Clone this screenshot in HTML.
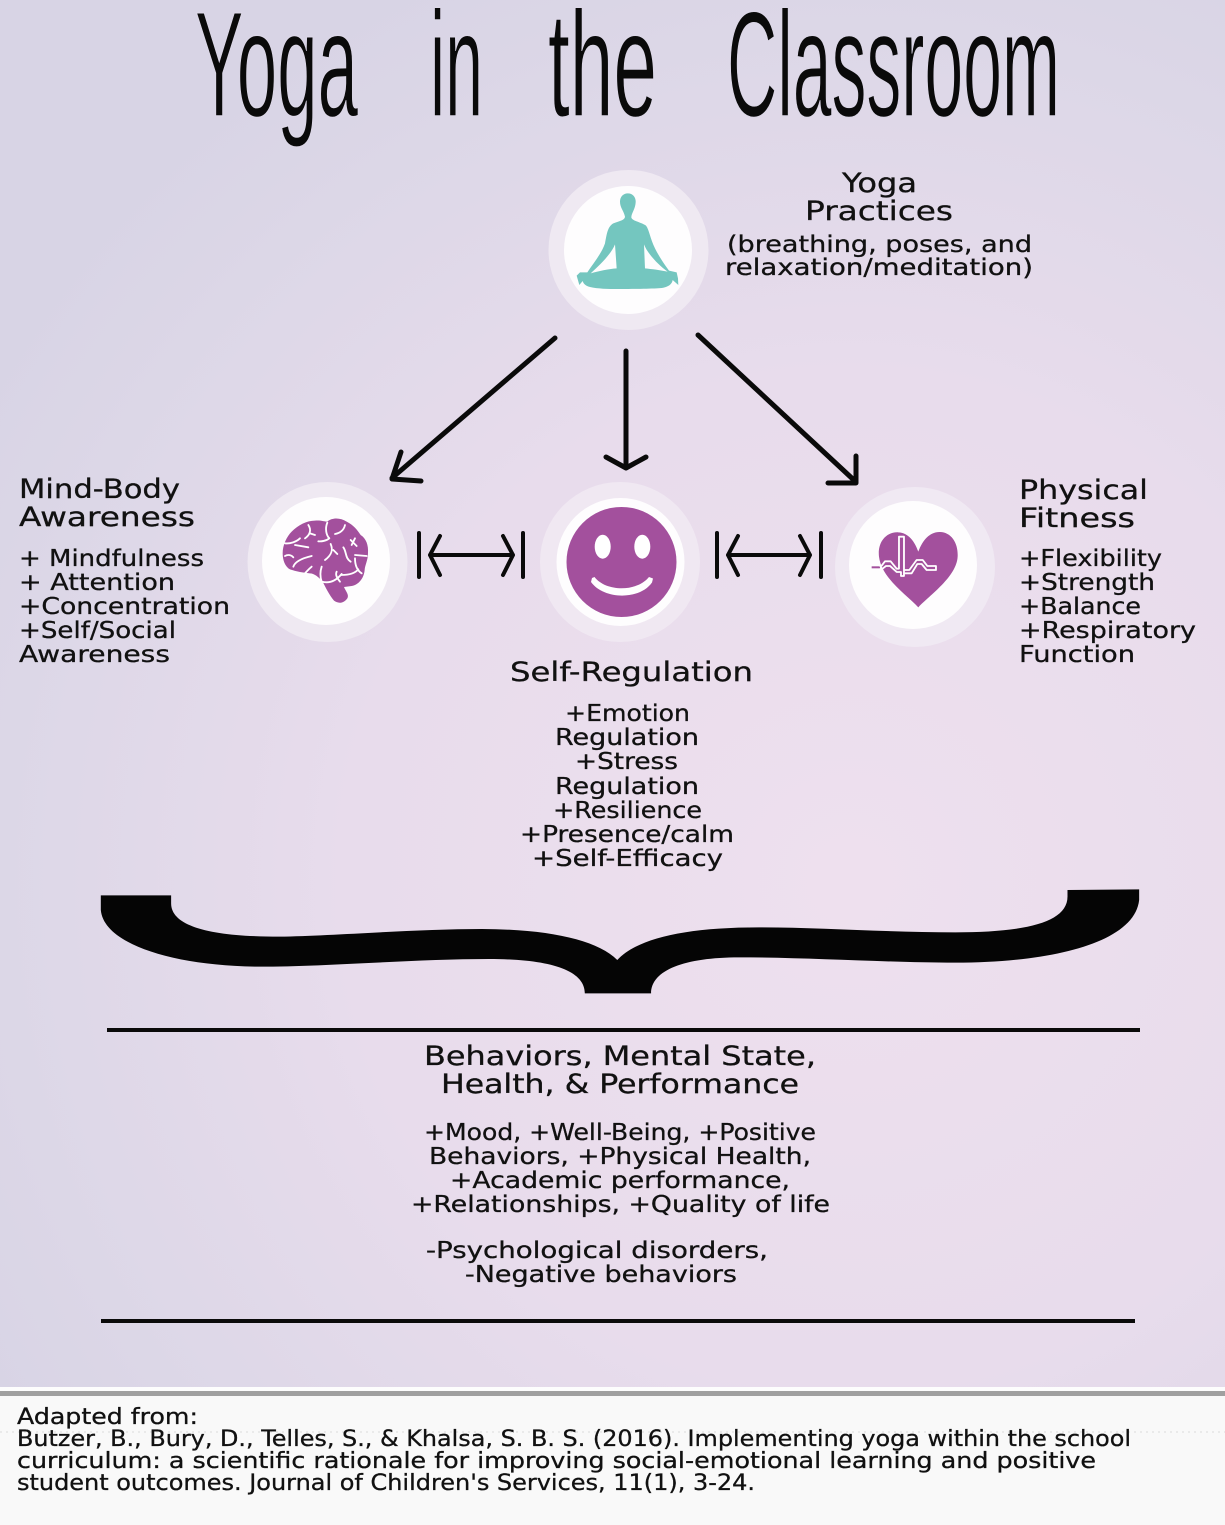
<!DOCTYPE html>
<html><head><meta charset="utf-8"><title>Yoga in the Classroom</title>
<style>
html,body{margin:0;padding:0;background:#f9f9f9}
svg{display:block}
text{font-family:"DejaVu Sans","Liberation Sans",sans-serif;fill:#111;font-size:23px;stroke:#111;stroke-width:.3px}
.h{font-size:27px}
.f{font-size:22px}
.t{font-family:"Liberation Sans",sans-serif;font-size:150px;fill:#0a0a0a;stroke:#dcd7e7;stroke-width:1.4px}
</style></head><body>
<svg width="1225" height="1525" viewBox="0 0 1225 1525" xmlns="http://www.w3.org/2000/svg">
<defs>
<radialGradient id="bg" gradientUnits="userSpaceOnUse" cx="850" cy="880" r="1000">
<stop offset="0" stop-color="#eee0ee"/><stop offset=".5" stop-color="#e8dcec"/><stop offset=".85" stop-color="#dcd7e7"/><stop offset="1" stop-color="#d8d4e5"/>
</radialGradient>
</defs>
<rect width="1225" height="1387" fill="url(#bg)"/>
<rect y="1387" width="1225" height="138" fill="#f9f9f9"/>
<rect y="1387" width="1225" height="4" fill="#fdfdfd"/>
<rect y="1391" width="1225" height="5" fill="#a0a0a0"/>
<line x1="0" y1="1432" x2="1225" y2="1432" stroke="#e6e6e6" stroke-width="1.5" stroke-dasharray="2 4"/>

<g class="title">
<text class="t" x="195" y="116" textLength="163" lengthAdjust="spacingAndGlyphs">Yoga</text>
<text class="t" x="430" y="116" textLength="53" lengthAdjust="spacingAndGlyphs">in</text>
<text class="t" x="548" y="116" textLength="109" lengthAdjust="spacingAndGlyphs">the</text>
<text class="t" x="727" y="116" textLength="333" lengthAdjust="spacingAndGlyphs">Classroom</text>
</g>

<!-- circles -->
<circle cx="628.5" cy="250" r="80" fill="#efe9f2"/><circle cx="628" cy="250" r="64" fill="#fefdfe"/>
<circle cx="327.5" cy="562" r="80" fill="#efe9f2"/><circle cx="326" cy="561" r="64" fill="#fefdfe"/>
<circle cx="620" cy="562" r="80" fill="#f0e8f2"/><circle cx="620.5" cy="562" r="64" fill="#fefdfe"/>
<circle cx="915" cy="567" r="80" fill="#f0e9f3"/><circle cx="913" cy="565" r="64" fill="#fefdfe"/>

<!-- meditator -->
<g transform="translate(570 185) scale(.3333)">
<path fill="#74c6bf" d="M173 25C190 25 198 38 197 52C196 72 184 85 184 97C186 108 215 112 228 122C238 135 240 160 255 190C270 220 285 240 297 257L320 262L324 280L325 300L308 285C306 300 290 310 260 310C235 311 200 312 175 312C130 312 90 313 60 306C45 302 40 295 38 288L28 300L20 272L30 262L52 262C70 235 95 205 105 175C110 150 112 125 130 115C150 108 165 105 165 95C160 75 150 68 150 50C150 35 160 25 173 25Z"/>
<path fill="#fefdfe" d="M135 178C125 205 90 240 62 265C85 258 115 252 140 250ZM222 178C232 205 265 240 293 260C270 255 245 252 225 250Z"/>
</g>

<!-- brain -->
<g transform="translate(240 470) scale(.3333)">
<path fill="#a3509d" d="M128 250C128 225 140 200 155 185C175 165 200 152 225 152C240 150 255 155 262 155C275 143 300 142 320 155C340 165 352 180 362 195C378 205 386 225 384 250C384 270 375 285 374 300C372 325 355 345 335 348L312 351C318 365 328 375 322 385C312 400 295 402 282 392C268 375 258 355 248 335C235 320 222 310 210 310C190 308 170 305 150 298C135 290 128 270 128 250Z"/>
<g fill="none" stroke="#fff" stroke-width="5.5" stroke-linecap="round" stroke-linejoin="round">
<path d="M135 220C150 222 170 215 180 205M165 225L205 232M135 258C145 252 155 256 160 262M160 290C165 275 185 265 215 258M205 165C215 180 210 195 195 205M210 190L225 195"/>
<path d="M262 158C255 175 258 195 268 205C260 212 245 215 235 214M315 165C312 180 300 190 285 192M272 222C280 240 275 255 255 270M280 240L292 252M310 232C320 245 315 265 332 275M332 210L350 228M345 205L335 225M345 255L380 258"/>
<path d="M245 290C240 305 240 320 245 335C270 342 290 330 305 312M290 305C285 315 292 325 300 335M345 265C345 285 350 300 365 310M305 315C325 315 345 310 355 298M215 290C205 298 200 305 195 310"/>
</g>
</g>

<!-- smile -->
<circle cx="621.5" cy="562" r="55" fill="#a3509d"/>
<ellipse cx="602.7" cy="546.7" rx="8" ry="12" fill="#fff"/>
<ellipse cx="642.3" cy="546.7" rx="8" ry="12" fill="#fff"/>
<path d="M592 578L594.500 577C606 592 637 592 649 577L653 578.500L652 582.500C640 600 604 600 591 582Z" fill="#fff"/>

<!-- heart -->
<g transform="translate(700 470) scale(.3333)">
<path fill="#a3509d" d="M655 412C620 375 545 325 537 260C532 215 560 185 595 187C625 188 645 215 655 245C668 210 690 185 720 186C755 187 775 220 773 260C770 320 690 375 655 412Z"/>
<path fill="none" stroke="#a3509d" stroke-width="6" d="M515 292H540"/>
<path fill="none" stroke="#fff" stroke-width="5.5" stroke-linejoin="round" d="M538 287H545L555 274H572L590 296H597V200H612V318H603V306H590L570 288H558L545 298H538M612 300H628L650 270H668L682 288H708V300H680L665 282H652L635 310H612"/>
</g>

<!-- arrows -->
<g fill="none" stroke="#0a0a0a" stroke-linecap="round" stroke-linejoin="round">
<g stroke-width="5">
<path d="M555 338L392 478M401 452L392 479L421 481"/>
<path d="M626 351V467M606 457L626 468L646 457"/>
<path d="M698 335L856 482M856 456L856 483L828 483"/>
</g>
<g stroke-width="4">
<path d="M419 533V577M523 533V577M430 555H513M440 536L430 555L440 575M503 536L513 555L503 575"/>
<path d="M717 533V577M821 533V577M728 555H810M738 536L728 555L738 575M800 536L810 555L800 575"/>
</g>
</g>

<!-- brace -->
<g transform="translate(90 880) scale(.676 .3333)">
<path fill="#050505" d="M16 46L120 46L120 70C120 140 180 170 280 170C360 168 480 147 580 147C680 148 750 180 780 240C810 175 880 142 990 142C1080 142 1180 157 1280 157C1380 157 1446 130 1446 50L1446 30L1552 28L1552 60C1545 190 1420 248 1280 248C1180 248 1060 232 960 232C880 232 830 270 830 340L732 340C732 270 680 237 590 237C480 237 350 260 250 260C120 258 20 190 16 90Z"/>
</g>

<rect x="107" y="1028" width="1033" height="4" fill="#0a0a0a"/>
<rect x="101" y="1319" width="1034" height="4" fill="#0a0a0a"/>

<!-- text -->
<text class="h" x="842" y="192" textLength="75" lengthAdjust="spacingAndGlyphs">Yoga</text>
<text class="h" x="805" y="220" textLength="148" lengthAdjust="spacingAndGlyphs">Practices</text>
<text x="727" y="252" textLength="305" lengthAdjust="spacingAndGlyphs">(breathing, poses, and</text>
<text x="725" y="275" textLength="308" lengthAdjust="spacingAndGlyphs">relaxation/meditation)</text>

<text class="h" x="19" y="498" textLength="161" lengthAdjust="spacingAndGlyphs">Mind-Body</text>
<text class="h" x="19" y="526" textLength="176" lengthAdjust="spacingAndGlyphs">Awareness</text>
<text x="19" y="566" textLength="185" lengthAdjust="spacingAndGlyphs">+ Mindfulness</text>
<text x="19" y="590" textLength="156" lengthAdjust="spacingAndGlyphs">+ Attention</text>
<text x="19" y="614" textLength="211" lengthAdjust="spacingAndGlyphs">+Concentration</text>
<text x="19" y="638" textLength="157" lengthAdjust="spacingAndGlyphs">+Self/Social</text>
<text x="19" y="662" textLength="151" lengthAdjust="spacingAndGlyphs">Awareness</text>

<text class="h" x="1019" y="499" textLength="129" lengthAdjust="spacingAndGlyphs">Physical</text>
<text class="h" x="1019" y="527" textLength="116" lengthAdjust="spacingAndGlyphs">Fitness</text>
<text x="1019" y="566" textLength="143" lengthAdjust="spacingAndGlyphs">+Flexibility</text>
<text x="1019" y="590" textLength="136" lengthAdjust="spacingAndGlyphs">+Strength</text>
<text x="1019" y="614" textLength="122" lengthAdjust="spacingAndGlyphs">+Balance</text>
<text x="1019" y="638" textLength="177" lengthAdjust="spacingAndGlyphs">+Respiratory</text>
<text x="1019" y="662" textLength="116" lengthAdjust="spacingAndGlyphs">Function</text>

<text class="h" x="510" y="681" textLength="243" lengthAdjust="spacingAndGlyphs">Self-Regulation</text>
<text x="565" y="721" textLength="125" lengthAdjust="spacingAndGlyphs">+Emotion</text>
<text x="555" y="745" textLength="144" lengthAdjust="spacingAndGlyphs">Regulation</text>
<text x="575" y="769" textLength="103" lengthAdjust="spacingAndGlyphs">+Stress</text>
<text x="555" y="794" textLength="144" lengthAdjust="spacingAndGlyphs">Regulation</text>
<text x="553" y="818" textLength="149" lengthAdjust="spacingAndGlyphs">+Resilience</text>
<text x="520" y="842" textLength="214" lengthAdjust="spacingAndGlyphs">+Presence/calm</text>
<text x="532" y="866" textLength="191" lengthAdjust="spacingAndGlyphs">+Self-Efficacy</text>

<text class="h" x="424" y="1065" textLength="392" lengthAdjust="spacingAndGlyphs">Behaviors, Mental State,</text>
<text class="h" x="441" y="1093" textLength="358" lengthAdjust="spacingAndGlyphs">Health, &amp; Performance</text>
<text x="424" y="1140" textLength="392" lengthAdjust="spacingAndGlyphs">+Mood, +Well-Being, +Positive</text>
<text x="429" y="1164" textLength="382" lengthAdjust="spacingAndGlyphs">Behaviors, +Physical Health,</text>
<text x="450" y="1188" textLength="340" lengthAdjust="spacingAndGlyphs">+Academic performance,</text>
<text x="411" y="1212" textLength="419" lengthAdjust="spacingAndGlyphs">+Relationships, +Quality of life</text>
<text x="426" y="1258" textLength="342" lengthAdjust="spacingAndGlyphs">-Psychological disorders,</text>
<text x="465" y="1282" textLength="272" lengthAdjust="spacingAndGlyphs">-Negative behaviors</text>

<text class="f" x="17" y="1424" textLength="181" lengthAdjust="spacingAndGlyphs">Adapted from:</text>
<text class="f" x="17" y="1446" textLength="1114" lengthAdjust="spacingAndGlyphs">Butzer, B., Bury, D., Telles, S., &amp; Khalsa, S. B. S. (2016). Implementing yoga within the school</text>
<text class="f" x="17" y="1468" textLength="1079" lengthAdjust="spacingAndGlyphs">curriculum: a scientific rationale for improving social-emotional learning and positive</text>
<text class="f" x="17" y="1490" textLength="738" lengthAdjust="spacingAndGlyphs">student outcomes. Journal of Children's Services, 11(1), 3-24.</text>
</svg>
</body></html>
